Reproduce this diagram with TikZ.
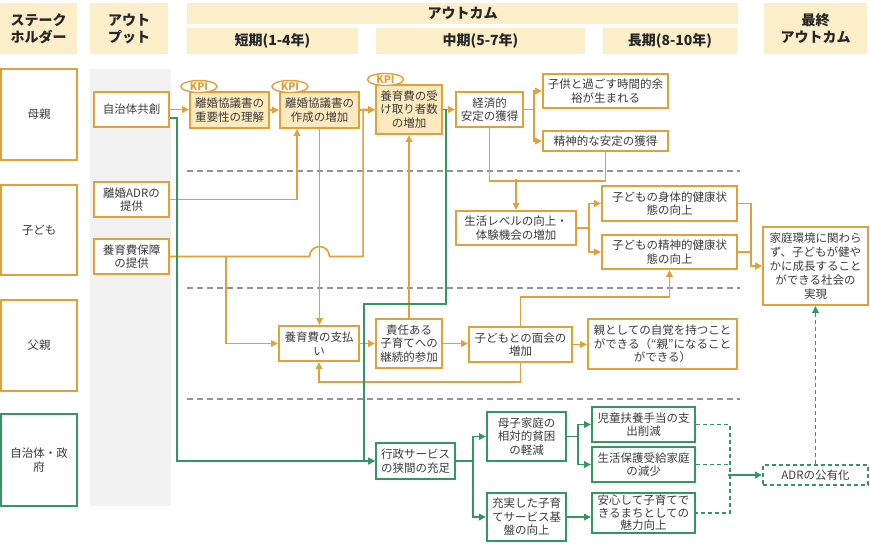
\documentclass[tikz,border=0pt]{standalone}
\usepackage{fontspec}
\setmainfont{Noto Sans CJK JP}
\usepackage{tikz}
\usetikzlibrary{calc, arrows.meta, shapes.geometric}
\definecolor{amber}{RGB}{226, 160, 56}
\definecolor{cream}{RGB}{252, 238, 200}
\definecolor{kpifill}{RGB}{252, 234, 190}
\definecolor{leaf}{RGB}{52, 150, 98}
\definecolor{gray95}{gray}{0.95}
\definecolor{gray60}{gray}{0.58}
\definecolor{ink}{RGB}{60, 60, 60}

\begin{document}
\begin{tikzpicture}[x=1pt, y=-1pt,
  hdr/.style={fill=cream, text=black!85, align=center, inner sep=0,
    font=\fontsize{14}{17}\selectfont\bfseries},
  obox/.style={draw=amber, fill=white, line width=1.9, text=ink, align=center,
    inner sep=1, font=\fontsize{11.5}{13.5}\selectfont},
  kpibox/.style={obox, fill=kpifill},
  gbox/.style={obox, draw=leaf},
  tag/.style={ellipse, draw=amber, fill=white, line width=1.4, text=amber,
    inner sep=0, minimum width=36, minimum height=12, text height=7.5pt,
    text depth=0pt, font=\fontsize{10.5}{11}\selectfont\bfseries},
  oline/.style={amber, line width=1.6},
  gline/.style={leaf, line width=1.6},
  gdash/.style={gline, dash pattern=on 4pt off 3pt},
  ahead/.style={-{Triangle[length=7pt, width=6.5pt]}},
]
  \fill[white] (0, 0) rectangle (870, 546);

  % headers
  \node[hdr, minimum width=77, minimum height=51] (hStake) at (38.5, 28.5) {ステーク\\ホルダー};
  \node[hdr, minimum width=78, minimum height=51] (hOutput) at (129, 28.5) {アウト\\プット};
  \node[hdr, minimum width=551, minimum height=21] (hOutcome) at (462.5, 13.5) {アウトカム};
  \node[hdr, minimum width=171, minimum height=26] (hShort) at (272.5, 41) {短期(1-4年)};
  \node[hdr, minimum width=209, minimum height=26] (hMid) at (480.5, 41) {中期(5-7年)};
  \node[hdr, minimum width=134, minimum height=26] (hLong) at (670, 41) {長期(8-10年)};
  \node[hdr, minimum width=103, minimum height=51] (hFinal) at (815.5, 28.5) {最終\\アウトカム};

  \fill[gray95] (90, 69) rectangle (171, 506);
  \foreach \y in {171, 288, 399} {
    \draw[gray60, line width=1.5, dash pattern=on 6pt off 4pt] (187, \y) -- (740, \y);
  }

  % stakeholders
  \node[obox, minimum width=76, minimum height=91] (sMother) at (39, 114.5) {母親};
  \node[obox, minimum width=76, minimum height=90] (sChild) at (39, 230) {子ども};
  \node[obox, minimum width=76, minimum height=91] (sFather) at (39, 345.5) {父親};
  \node[gbox, minimum width=76, minimum height=92] (sGov) at (39, 460) {自治体・政\\府};

  % outputs
  \node[obox, minimum width=75, minimum height=35] (oCocreate) at (131.5, 109.5) {自治体共創};
  \node[obox, minimum width=75, minimum height=35] (oADR) at (131.5, 199.5) {離婚ADRの\\提供};
  \node[obox, minimum width=75, minimum height=35] (oSupport) at (131.5, 256.5) {養育費保障\\の提供};

  % short term
  \node[kpibox, minimum width=79, minimum height=36] (kpi1) at (229.5, 110) {離婚協議書の\\重要性の理解};
  \node[kpibox, minimum width=79, minimum height=36] (kpi2) at (319.5, 110) {離婚協議書の\\作成の増加};
  \node[kpibox, minimum width=66, minimum height=49] (kpi3) at (409, 109.5) {養育費の受\\け取り者数\\の増加};
  \node[obox, minimum width=80, minimum height=35] (mPay) at (319, 343.5) {養育費の支払\\い};
  \node[obox, minimum width=66, minimum height=49] (mResp) at (409, 343.5) {責任ある\\子育てへの\\継続的参加};
  \node[gbox, minimum width=79, minimum height=36] (mAdmin) at (415.5, 461) {行政サービス\\の狭間の充足};

  % mid term
  \node[obox, minimum width=67, minimum height=35] (mEcon) at (489.5, 109.5) {経済的\\安定の獲得};
  \node[obox, minimum width=125, minimum height=34] (mTime) at (605.5, 91) {子供と過ごす時間的余\\裕が生まれる};
  \node[obox, minimum width=125, minimum height=20] (mMental) at (605.5, 141) {精神的な安定の獲得};
  \node[obox, minimum width=120, minimum height=34] (mLife) at (516, 228) {生活レベルの向上・\\体験機会の増加};
  \node[obox, minimum width=103, minimum height=35] (mVisit) at (520.5, 344.5) {子どもとの面会の\\増加};
  \node[gbox, minimum width=79, minimum height=49] (mPoverty) at (526.5, 436.5) {母子家庭の\\相対的貧困\\の軽減};
  \node[gbox, minimum width=79, minimum height=48] (mService) at (526.5, 517) {充実した子育\\てサービス基\\盤の向上};

  % long term
  \node[obox, minimum width=135, minimum height=35] (lBody) at (669.5, 203.5) {子どもの身体的健康状\\態の向上};
  \node[obox, minimum width=135, minimum height=34] (lMind) at (669.5, 252) {子どもの精神的健康状\\態の向上};
  \node[obox, minimum width=149, minimum height=50] (lParent) at (662.5, 344) {親としての自覚を持つこと\\ができる（“親”になること\\ができる）};
  \node[gbox, minimum width=103, minimum height=35] (lAllow) at (643.5, 424.5) {児童扶養手当の支\\出削減};
  \node[gbox, minimum width=103, minimum height=35] (lWelfare) at (643.5, 464.5) {生活保護受給家庭\\の減少};
  \node[gbox, minimum width=103, minimum height=40, font=\fontsize{11.5}{12.5}\selectfont] (lTown) at (643.5, 513) {安心して子育てで\\きるまちとしての\\魅力向上};

  % final
  \node[obox, minimum width=105, minimum height=78, font=\fontsize{11.5}{14}\selectfont] (fGoal) at (815.5, 266) {家庭環境に関わら\\ず、子どもが健や\\かに成長すること\\ができる社会の\\実現};
  \node[gbox, dash pattern=on 4pt off 3pt, minimum width=105, minimum height=20] (fADR) at (815.5, 475) {ADRの公有化};

  \foreach \n/\x/\y in {1/199/86.5, 2/290/86.5, 3/385.5/79.5} {
    \node[tag] (tag\n) at (\x, \y) {KPI};
  }

  % orange links
  \draw[oline, ahead] (oCocreate.east) -- (oCocreate.east -| kpi1.west);
  \draw[oline, ahead] (kpi1.east) -- (kpi2.west);
  \draw[oline, ahead] (kpi2.east) -- (kpi2.east -| kpi3.west);
  \draw[oline, ahead] (kpi3.east) -- (kpi3.east -| mEcon.west);
  \draw[oline, ahead] (oADR.east) -| ([xshift=-22.5pt]kpi2.south);
  \coordinate (hop) at (kpi2.south |- oSupport.east);
  \draw[oline, ahead] (oSupport.east) -- ([xshift=-10pt]hop)
    arc[start angle=180, end angle=0, radius=10pt]
    -- ($(hop -| kpi3.west)+(-12, 0)$) |- (kpi3.west);
  \draw[oline, ahead] (oSupport.east) ++(56, 0) |- (mPay.west);
  \draw[oline, ahead] (kpi2.south) -- (kpi2.south |- mPay.north);
  \draw[oline, ahead] (mPay.east) -- (mPay.east -| mResp.west);
  \draw[oline, ahead] (mResp.east) -- (mResp.east -| mVisit.west);
  \draw[oline, ahead] (mResp.north) -- (mResp.north |- kpi3.south);
  \draw[oline, ahead] (mVisit.south) -- ++(0, 19) -| (mPay.south);
  \draw[oline, ahead] (mVisit.north) -- ++(0, -29) -| (lMind.south);
  \draw[oline, ahead] (mVisit.east) -- (mVisit.east -| lParent.west);
  \draw[oline, ahead] (mEcon.east) -- ++(10, 0) |- (mTime.west);
  \draw[oline, ahead] (mEcon.east) -- ++(10, 0) |- (mMental.west);
  \draw[oline] (mEcon.south) -- ++(0, 53) -| (mMental.south);
  \draw[oline, ahead] (mLife.north) ++(0, -31) -- (mLife.north);
  \draw[oline, ahead] (mLife.east) -- ++(12, 0) |- (lBody.west);
  \draw[oline, ahead] (mLife.east) -- ++(12, 0) |- (lMind.west);
  \draw[oline, ahead] (lBody.east) -- ++(13, 0) |- (fGoal.west);
  \draw[oline, ahead] (lMind.east) -- ++(13, 0) |- (fGoal.west);

  % green links
  \draw[gline, ahead] ([yshift=-8.5pt]oCocreate.east) -- ++(7, 0) |- (mAdmin.west);
  \draw[gline, ahead] (kpi3.east) -- ++(3, 0) -- ++(0, 194.5) -- ++(-82, 0) |- (mAdmin.west);
  \draw[gline, ahead] (mAdmin.east) -- ++(17, 0) |- (mPoverty.west);
  \draw[gline, ahead] (mAdmin.east) -- ++(17, 0) |- (mService.west);
  \draw[gline, ahead] (mPoverty.east) -- ++(11, 0) |- (lAllow.west);
  \draw[gline, ahead] (mPoverty.east) -- ++(11, 0) |- (lWelfare.west);
  \draw[gline, ahead] (mService.east) -- (mService.east -| lTown.west);
  \draw[gdash] (lAllow.east) -- ++(34, 0) |- (lTown.east);
  \draw[gdash] (lWelfare.east) -- ++(34, 0);
  \draw[gline, ahead] (fADR.west) ++(-34, 0) -- (fADR.west);
  \draw[gdash, ahead] (fADR.north) -- (fADR.north |- fGoal.south);
\end{tikzpicture}
\end{document}
